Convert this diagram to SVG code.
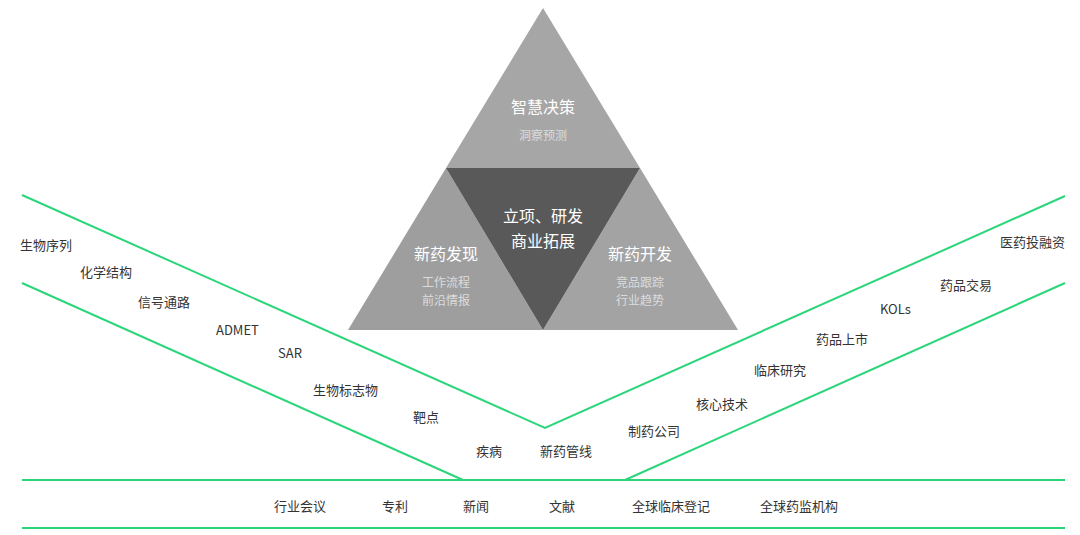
<svg xmlns="http://www.w3.org/2000/svg" width="1080" height="535" viewBox="0 0 1080 535">
<style>
.l{stroke:#2bd67b;stroke-width:2;fill:none}
.t{font-family:"Noto Sans CJK SC","Noto Sans",sans-serif;font-size:13px;fill:#333}
.w{font-family:"Noto Sans CJK SC",sans-serif;font-size:16px;fill:#fff;text-anchor:middle}
.s{font-family:"Noto Sans CJK SC",sans-serif;font-size:12px;fill:#dcdcdc;text-anchor:middle}
</style>
<rect width="1080" height="535" fill="#fff"/>
<g id="connectors">
<polyline class="l" points="22,195 545,428 1065,196"/>
<line class="l" x1="22" y1="283" x2="463" y2="480"/>
<line class="l" x1="625" y1="480" x2="1065" y2="283"/>
<line class="l" x1="22" y1="480" x2="1065" y2="480"/>
<line class="l" x1="22" y1="528" x2="1065" y2="528"/>
</g>
<g id="pyramid">
<polygon points="543,8 640,168 446,168" fill="#a6a6a6"/>
<polygon points="446,168 543,330 348,330" fill="#9e9e9e"/>
<polygon points="640,168 738,330 543,330" fill="#a3a3a3"/>
<polygon points="446,168 640,168 543,330" fill="#595959"/>
<text class="w" x="543" y="113">智慧决策</text>
<text class="s" x="543" y="140">洞察预测</text>
<text class="w" x="543" y="222">立项、研发</text>
<text class="w" x="543" y="247">商业拓展</text>
<text class="w" x="446" y="260">新药发现</text>
<text class="s" x="446" y="287">工作流程</text>
<text class="s" x="446" y="305">前沿情报</text>
<text class="w" x="640" y="260">新药开发</text>
<text class="s" x="640" y="287">竞品跟踪</text>
<text class="s" x="640" y="305">行业趋势</text>
</g>
<g id="labels">
<text class="t" x="20" y="250">生物序列</text>
<text class="t" x="80" y="277">化学结构</text>
<text class="t" x="138" y="307">信号通路</text>
<text class="t" x="216" y="335">ADMET</text>
<text class="t" x="278" y="358">SAR</text>
<text class="t" x="313" y="395">生物标志物</text>
<text class="t" x="413" y="422">靶点</text>
<text class="t" x="476" y="456">疾病</text>
<text class="t" x="540" y="456">新药管线</text>
<text class="t" x="628" y="436">制药公司</text>
<text class="t" x="696" y="409">核心技术</text>
<text class="t" x="754" y="375">临床研究</text>
<text class="t" x="816" y="344">药品上市</text>
<text class="t" x="880" y="314">KOLs</text>
<text class="t" x="940" y="290">药品交易</text>
<text class="t" x="1000" y="247">医药投融资</text>
<text class="t" x="274" y="511">行业会议</text>
<text class="t" x="382" y="511">专利</text>
<text class="t" x="463" y="511">新闻</text>
<text class="t" x="549" y="511">文献</text>
<text class="t" x="632" y="511">全球临床登记</text>
<text class="t" x="760" y="511">全球药监机构</text>
</g>
</svg>
